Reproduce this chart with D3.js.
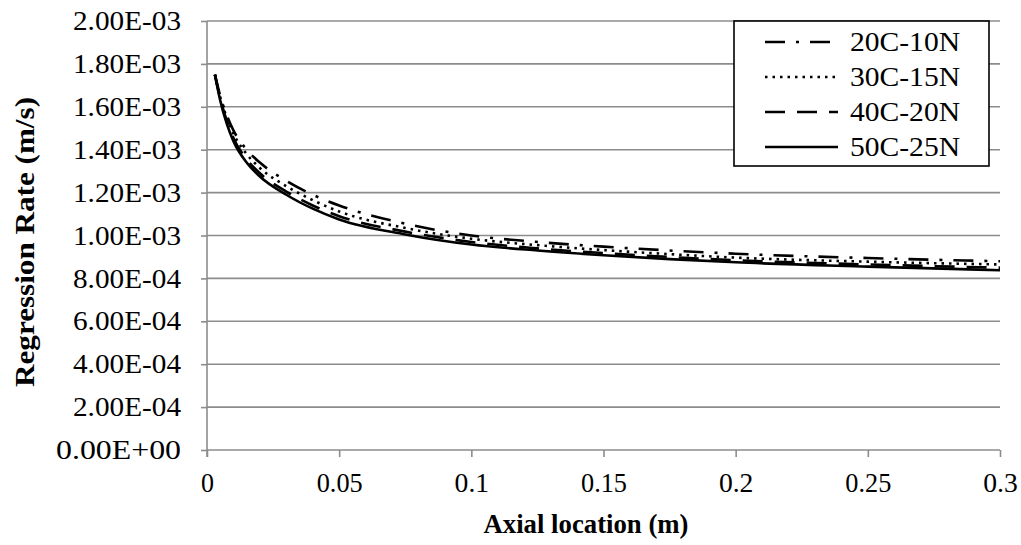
<!DOCTYPE html>
<html>
<head>
<meta charset="utf-8">
<script src="https://cdn.jsdelivr.net/npm/d3@7"></script>
<style>
  body { margin: 0; background: #fff; }
  text { font-family: "Liberation Serif", "Times New Roman", Times, "DejaVu Serif", serif; fill: #000; }
</style>
</head>
<body>
<svg id="chart" width="1021" height="545"></svg>
<script>
// axial positions (m)
const xs = [0.003, 0.005, 0.0075, 0.01, 0.015, 0.02, 0.03, 0.04, 0.05, 0.075, 0.1, 0.125, 0.15, 0.175, 0.2, 0.25, 0.3];

// regression rate (m/s)
const s20C10N = [1.75e-3, 1.65e-3, 1.56e-3, 1.49e-3, 1.40e-3, 1.34e-3, 1.255e-3, 1.19e-3, 1.14e-3, 1.055e-3, 1.0e-3, 0.97e-3, 0.948e-3, 0.93e-3, 0.915e-3, 0.895e-3, 0.88e-3];
const s30C15N = [1.75e-3, 1.645e-3, 1.55e-3, 1.475e-3, 1.38e-3, 1.315e-3, 1.23e-3, 1.165e-3, 1.112e-3, 1.035e-3, 0.985e-3, 0.955e-3, 0.932e-3, 0.913e-3, 0.897e-3, 0.878e-3, 0.865e-3];
const s40C20N = [1.75e-3, 1.64e-3, 1.535e-3, 1.455e-3, 1.355e-3, 1.29e-3, 1.205e-3, 1.14e-3, 1.09e-3, 1.018e-3, 0.97e-3, 0.94e-3, 0.918e-3, 0.90e-3, 0.885e-3, 0.865e-3, 0.85e-3];
const s50C25N = [1.75e-3, 1.63e-3, 1.52e-3, 1.44e-3, 1.34e-3, 1.275e-3, 1.19e-3, 1.125e-3, 1.075e-3, 1.005e-3, 0.958e-3, 0.93e-3, 0.908e-3, 0.89e-3, 0.875e-3, 0.855e-3, 0.838e-3];

const seriesNames = ["20C-10N", "30C-15N", "40C-20N", "50C-25N"];
const xTicks = [0, 0.05, 0.1, 0.15, 0.2, 0.25, 0.3];
const yTicks = [0, 2e-4, 4e-4, 6e-4, 8e-4, 1e-3, 1.2e-3, 1.4e-3, 1.6e-3, 1.8e-3, 2e-3];

const series = [
    { name: seriesNames[0], values: s20C10N, dash: "20,11,3,11" },
    { name: seriesNames[1], values: s30C15N, dash: "2.5,5" },
    { name: seriesNames[2], values: s40C20N, dash: "20,12" },
    { name: seriesNames[3], values: s50C25N, dash: null }
];

const svg = d3.select("#chart");
const plot = { left: 207, right: 1000, top: 21, bottom: 450 };

const x = d3.scaleLinear().domain([0, 0.3]).range([plot.left, plot.right]);
const y = d3.scaleLinear().domain([0, 2e-3]).range([plot.bottom, plot.top]);

function sci(v) {
    if (v === 0) return "0.00E+00";
    const e = Math.floor(Math.log10(Math.abs(v)) + 1e-9);
    const m = v / Math.pow(10, e);
    const sign = e < 0 ? "-" : "+";
    return m.toFixed(2) + "E" + sign + String(Math.abs(e)).padStart(2, "0");
}

// squeeze/stretch a text node so it spans roughly the width seen in the picture
function fitWidth(sel, target) {
    sel.each(function () {
        const w = this.getComputedTextLength();
        if (w > 0) d3.select(this).attr("textLength", target(this.textContent)).attr("lengthAdjust", "spacingAndGlyphs");
    });
}

const gray = "#8c8c8c";

// horizontal gridlines
svg.append("g")
    .selectAll("line")
    .data(yTicks.slice(1))
    .join("line")
    .attr("x1", plot.left)
    .attr("x2", plot.right)
    .attr("y1", d => y(d))
    .attr("y2", d => y(d))
    .attr("stroke", gray)
    .attr("stroke-width", 1.6);

// y axis
const yAxis = svg.append("g")
    .attr("transform", `translate(${plot.left},0)`)
    .call(d3.axisLeft(y).tickValues(yTicks).tickSize(6).tickPadding(20).tickFormat(sci));
yAxis.attr("font-family", null);
yAxis.select(".domain").attr("stroke", gray).attr("stroke-width", 1.6)
    .attr("d", `M0,${plot.top}V${plot.bottom + 7}`);
yAxis.selectAll(".tick line").attr("stroke", gray).attr("stroke-width", 1.6);
yAxis.selectAll(".tick text")
    .attr("font-size", 27)
    .attr("fill", "#000")
    .call(fitWidth, t => t.includes("+") ? 125 : 108);

// x axis
const xAxis = svg.append("g")
    .attr("transform", `translate(0,${plot.bottom})`)
    .call(d3.axisBottom(x).tickValues(xTicks).tickSize(7).tickPadding(16).tickFormat(d => String(d)));
xAxis.attr("font-family", null);
xAxis.select(".domain").attr("stroke", gray).attr("stroke-width", 1.6)
    .attr("d", `M${plot.left},0H${plot.right}`);
xAxis.selectAll(".tick line").attr("stroke", gray).attr("stroke-width", 1.6);
xAxis.selectAll(".tick text")
    .attr("font-size", 27)
    .attr("fill", "#000")
    .call(fitWidth, t => t.length === 1 ? 13 : t.length * 11.5);

// curves
const line = d3.line()
    .x((d, i) => x(xs[i]))
    .y(d => y(d))
    .curve(d3.curveMonotoneX);

svg.append("g")
    .selectAll("path")
    .data(series)
    .join("path")
    .attr("d", d => line(d.values))
    .attr("fill", "none")
    .attr("stroke", "#000")
    .attr("stroke-width", 2.6)
    .attr("stroke-dasharray", d => d.dash);

// legend
const legend = svg.append("g");
legend.append("rect")
    .attr("x", 734).attr("y", 21)
    .attr("width", 255).attr("height", 145)
    .attr("fill", "#fff")
    .attr("stroke", "#000")
    .attr("stroke-width", 1.6);

const rows = legend.selectAll("g.row")
    .data(series)
    .join("g")
    .attr("class", "row")
    .attr("transform", (d, i) => `translate(0,${42 + i * 35})`);
rows.append("line")
    .attr("x1", 765).attr("x2", 838)
    .attr("stroke", "#000")
    .attr("stroke-width", 2.6)
    .attr("stroke-dasharray", d => d.dash);
rows.append("text")
    .attr("x", 850)
    .attr("y", 9)
    .attr("font-size", 27)
    .text(d => d.name)
    .call(fitWidth, () => 110);

// axis titles
svg.append("text")
    .attr("x", 586)
    .attr("y", 533)
    .attr("text-anchor", "middle")
    .attr("font-size", 27)
    .attr("font-weight", "bold")
    .text("Axial location (m)")
    .call(fitWidth, () => 205);

svg.append("text")
    .attr("transform", "translate(34,242) rotate(-90)")
    .attr("text-anchor", "middle")
    .attr("font-size", 27)
    .attr("font-weight", "bold")
    .text("Regression Rate (m/s)")
    .call(fitWidth, () => 290);
</script>
</body>
</html>
